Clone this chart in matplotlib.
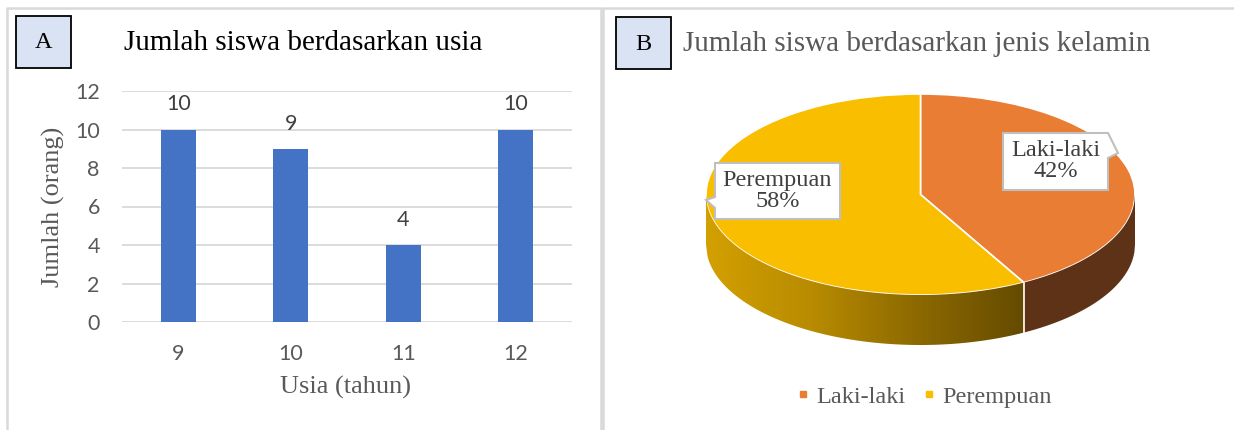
import numpy as np
import matplotlib
matplotlib.use("Agg")
import matplotlib.pyplot as plt
from matplotlib.patches import Rectangle, Polygon
from matplotlib.lines import Line2D
from matplotlib.colors import LinearSegmentedColormap

# data
usia = ["9", "10", "11", "12"]
jumlah = [10, 9, 4, 10]
kelamin = ["Laki-laki", "Perempuan"]
persen = [42, 58]

W, H = 1234, 430
fig = plt.figure(figsize=(W / 100, H / 100), dpi=100)

SERIF = "Liberation Serif"
SANS = "Lato"
GRAY = "#595959"


def fx(x):
    return x / W


def fy(y):
    return 1 - y / H


def fpts(pts):
    return [(fx(x), fy(y)) for x, y in pts]


# panel borders (right panel has no right edge)
fig.add_artist(Line2D([fx(7), fx(7), fx(601), fx(601)], [0, fy(8), fy(8), 0],
                      color="#D9D9D9", lw=1.8, transform=fig.transFigure))
fig.add_artist(Line2D([fx(603), fx(603), 1], [0, fy(8), fy(8)],
                      color="#D9D9D9", lw=1.8, transform=fig.transFigure))

# letter boxes
for lab, x0, y0 in [("A", 16, 16), ("B", 616, 17)]:
    fig.add_artist(Rectangle((fx(x0), fy(y0 + 52)), 55 / W, 52 / H, transform=fig.transFigure,
                             facecolor="#DAE3F3", edgecolor="black", lw=1.3))
    fig.text(fx(x0 + 27.5), fy(y0 + 27), lab, ha="center", va="center",
             fontsize=17.5, family=SERIF, color="black")

# ---- panel A: bar chart
fig.text(fx(124), fy(50), "Jumlah siswa berdasarkan usia", ha="left", va="baseline",
         fontsize=21, family=SERIF, color="black")

ax1 = fig.add_axes([fx(122), fy(322), 450 / W, 231 / H])
x = np.arange(len(usia))
ax1.bar(x, jumlah, width=0.31, color="#4472C4", zorder=3)
for i, v in enumerate(jumlah):
    ax1.annotate(str(v), (i, v), xytext=(0, 18), textcoords="offset points",
                 ha="center", va="center", fontsize=15.5, family=SANS, color="#404040")
ax1.set_xlim(-0.5, 3.5)
ax1.set_ylim(0, 12)
ax1.set_yticks(range(0, 13, 2))
ax1.set_xticks(x)
ax1.set_xticklabels(usia)
ax1.grid(axis="y", color="#D9D9D9", lw=1.3, zorder=0)
for s in ax1.spines.values():
    s.set_visible(False)
ax1.tick_params(length=0, labelsize=15.5, labelcolor=GRAY)
ax1.tick_params(axis="y", pad=16)
ax1.tick_params(axis="x", pad=16)
for t in ax1.get_xticklabels() + ax1.get_yticklabels():
    t.set_family(SANS)
ax1.set_facecolor("none")

fig.text(fx(53), fy(207), "Jumlah (orang)", rotation=90, ha="center", va="center",
         fontsize=19, family=SERIF, color=GRAY)
fig.text(fx(346), fy(387), "Usia (tahun)", ha="center", va="center",
         fontsize=19, family=SERIF, color=GRAY)

# ---- panel B: 3D-looking pie
fig.text(fx(683), fy(51), "Jumlah siswa berdasarkan jenis kelamin", ha="left", va="baseline",
         fontsize=21, family=SERIF, color=GRAY)

depth = 50 / 100.5
ax2 = fig.add_axes([fx(706), fy(345), 429 / W, 251 / H])
pie_colors = ["#E97D33", "#F9BE00"]
ax2.pie(persen, colors=pie_colors, startangle=90, counterclock=False,
        wedgeprops=dict(edgecolor="white", linewidth=1.2), normalize=True)
ax2.set_aspect("auto")
ax2.axis("off")

# split point of the front side
ang = np.deg2rad(90 - 360 * persen[0] / sum(persen))
xs = np.cos(ang)


def side_poly(xa, xb):
    xx = np.linspace(xa, xb, 200)
    top = -np.sqrt(np.clip(1 - xx ** 2, 0, None))
    return np.vstack([np.column_stack([xx, top]),
                      np.column_stack([xx[::-1], top[::-1] - depth])])


grad = np.linspace(0, 1, 256).reshape(1, -1)
p_left = Polygon(side_poly(-1, xs), closed=True, facecolor="none", edgecolor="none", zorder=1)
ax2.add_patch(p_left)
cmap = LinearSegmentedColormap.from_list("gold", ["#D3A000", "#B88B00", "#8C6900", "#654B00"])
im = ax2.imshow(grad, cmap=cmap, extent=[-1, xs, -1 - depth, 0], aspect="auto", zorder=1)
im.set_clip_path(p_left)

p_right = Polygon(side_poly(xs, 1), closed=True, facecolor="#5E3216", edgecolor="none", zorder=1)
ax2.add_patch(p_right)
ys = -np.sqrt(1 - xs ** 2)
ax2.plot([xs, xs], [ys, ys - depth], color="white", lw=1.2, zorder=2)
ax2.set_xlim(-1, 1)
ax2.set_ylim(-1 - depth, 1)

# callout labels
callouts = [
    ([(1003, 133), (1108, 133), (1118, 153), (1108, 158), (1108, 190), (1003, 190)], (1055.5, 161)),
    ([(715, 163), (840, 163), (840, 219), (715, 219), (715, 208), (706, 200), (715, 197)], (777.5, 191)),
]
for (pts, (cx, cy)), name, p in zip(callouts, kelamin, persen):
    fig.add_artist(Polygon(fpts(pts), closed=True, transform=fig.transFigure,
                           facecolor="white", edgecolor="#BFBFBF", lw=1.5, zorder=5))
    fig.text(fx(cx), fy(cy), f"{name}\n{p}%", ha="center", va="center", linespacing=1.0,
             fontsize=17.5, family=SERIF, color="#404040", zorder=6)

handles = [Line2D([], [], marker="s", ls="none", markersize=4.5, color=c) for c in pie_colors]
fig.legend(handles, kelamin, loc="center", bbox_to_anchor=(fx(925), fy(397)), ncol=2,
           frameon=False, prop=dict(family=SERIF, size=17.5), labelcolor=GRAY,
           handlelength=0.4, handletextpad=0.35, columnspacing=0.8)

fig.savefig("out.png", dpi=100)
